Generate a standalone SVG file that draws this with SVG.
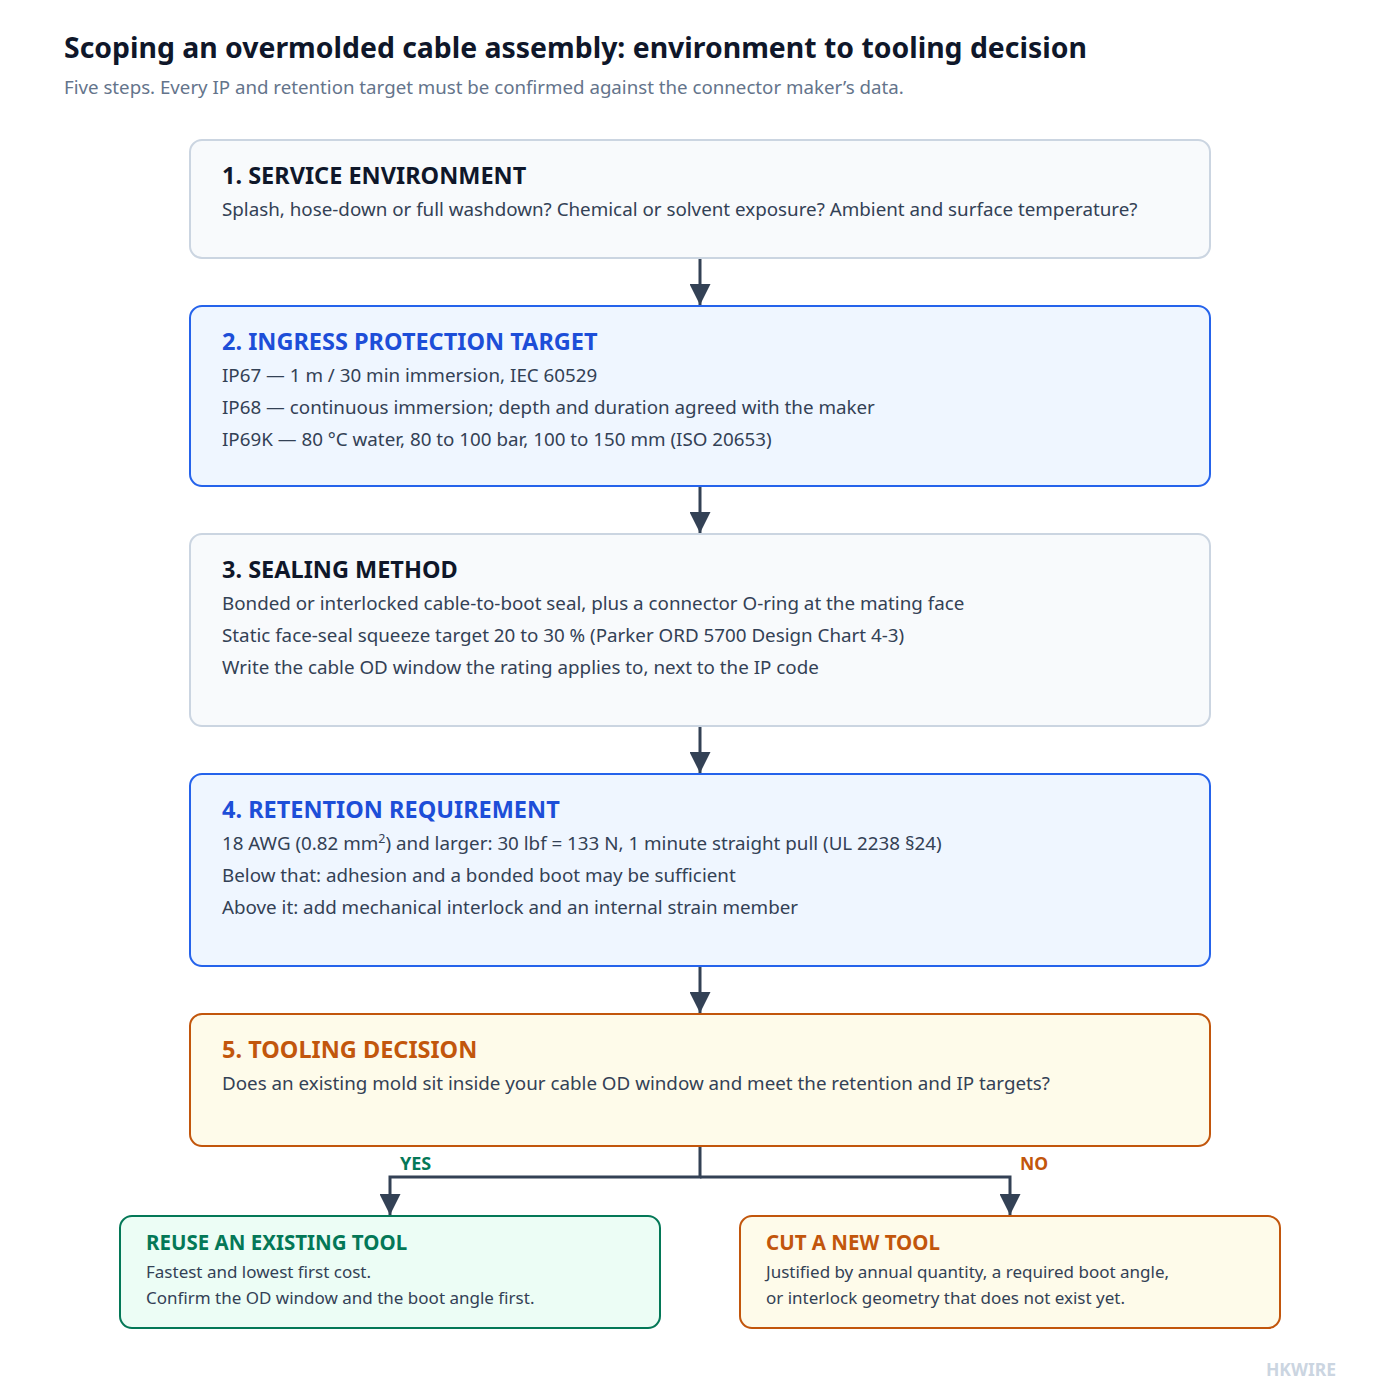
<svg xmlns="http://www.w3.org/2000/svg" width="1400" height="1400" viewBox="0 0 1400 1400">
<defs>
<style>
text{font-family:"Noto Sans","Open Sans","Liberation Sans",sans-serif}
.title{font-size:28.4px;font-weight:700;fill:#0f172a}
.sub{font-size:18.7px;fill:#64748b}
.h{font-size:23.5px;font-weight:700}
.b{font-size:18.8px;fill:#334155}
.bs{font-size:17px;fill:#334155}
.hs{font-size:20.5px;font-weight:700}
.grey{fill:#f8fafc;stroke:#cbd5e1;stroke-width:2}
.blue{fill:#eff6ff;stroke:#2563eb;stroke-width:2}
.amber{fill:#fefbea;stroke:#c2560c;stroke-width:2}
.green{fill:#ecfdf5;stroke:#047857;stroke-width:2}
.conn{stroke:#334155;stroke-width:3;fill:none}
</style>
<marker id="ah" viewBox="0 0 10 10" refX="10" refY="5" markerWidth="7" markerHeight="7" markerUnits="strokeWidth" orient="auto">
<path d="M0,0 L10,5 L0,10 z" fill="#334155"/>
</marker>
</defs>
<rect width="1400" height="1400" fill="#ffffff"/>
<text x="64" y="58" class="title">Scoping an overmolded cable assembly: environment to tooling decision</text>
<text x="64" y="94" class="sub">Five steps. Every IP and retention target must be confirmed against the connector maker’s data.</text>

<g id="connectors">
<path class="conn" d="M700,258 V305" marker-end="url(#ah)"/>
<path class="conn" d="M700,486 V533" marker-end="url(#ah)"/>
<path class="conn" d="M700,726 V773" marker-end="url(#ah)"/>
<path class="conn" d="M700,966 V1013" marker-end="url(#ah)"/>
<path class="conn" d="M700,1146 V1177 H390 V1215" marker-end="url(#ah)"/>
<path class="conn" d="M700,1177 H1010 V1215" marker-end="url(#ah)"/>
<text x="400" y="1170" style="font-size:18px;font-weight:700;fill:#047857">YES</text>
<text x="1020" y="1170" style="font-size:17.5px;font-weight:700;fill:#c2560c">NO</text>
</g>

<g id="step1">
<rect x="190" y="140" width="1020" height="118" rx="12" class="grey"/>
<text x="222" y="184" class="h" fill="#0f172a">1. SERVICE ENVIRONMENT</text>
<text x="222" y="216" class="b">Splash, hose-down or full washdown? Chemical or solvent exposure? Ambient and surface temperature?</text>
</g>

<g id="step2">
<rect x="190" y="306" width="1020" height="180" rx="12" class="blue"/>
<text x="222" y="350" class="h" fill="#1d4ed8">2. INGRESS PROTECTION TARGET</text>
<text x="222" y="382" class="b">IP67 — 1 m / 30 min immersion, IEC 60529</text>
<text x="222" y="414" class="b">IP68 — continuous immersion; depth and duration agreed with the maker</text>
<text x="222" y="446" class="b">IP69K — 80 °C water, 80 to 100 bar, 100 to 150 mm (ISO 20653)</text>
</g>

<g id="step3">
<rect x="190" y="534" width="1020" height="192" rx="12" class="grey"/>
<text x="222" y="578" class="h" fill="#0f172a">3. SEALING METHOD</text>
<text x="222" y="610" class="b">Bonded or interlocked cable-to-boot seal, plus a connector O-ring at the mating face</text>
<text x="222" y="642" class="b">Static face-seal squeeze target 20 to 30 % (Parker ORD 5700 Design Chart 4-3)</text>
<text x="222" y="674" class="b">Write the cable OD window the rating applies to, next to the IP code</text>
</g>

<g id="step4">
<rect x="190" y="774" width="1020" height="192" rx="12" class="blue"/>
<text x="222" y="818" class="h" fill="#1d4ed8">4. RETENTION REQUIREMENT</text>
<text x="222" y="850" class="b">18 AWG (0.82 mm<tspan dy="-7" font-size="12.5">2</tspan><tspan dy="7">) and larger: 30 lbf = 133 N, 1 minute straight pull (UL 2238 §24)</tspan></text>
<text x="222" y="882" class="b">Below that: adhesion and a bonded boot may be sufficient</text>
<text x="222" y="914" class="b">Above it: add mechanical interlock and an internal strain member</text>
</g>

<g id="step5">
<rect x="190" y="1014" width="1020" height="132" rx="12" class="amber"/>
<text x="222" y="1058" class="h" fill="#c2560c">5. TOOLING DECISION</text>
<text x="222" y="1090" class="b">Does an existing mold sit inside your cable OD window and meet the retention and IP targets?</text>
</g>

<g id="reuse">
<rect x="120" y="1216" width="540" height="112" rx="12" class="green"/>
<text x="146" y="1250" class="hs" fill="#047857">REUSE AN EXISTING TOOL</text>
<text x="146" y="1278" class="bs">Fastest and lowest first cost.</text>
<text x="146" y="1304" class="bs">Confirm the OD window and the boot angle first.</text>
</g>

<g id="newtool">
<rect x="740" y="1216" width="540" height="112" rx="12" class="amber"/>
<text x="766" y="1250" class="hs" fill="#c2560c">CUT A NEW TOOL</text>
<text x="766" y="1278" class="bs">Justified by annual quantity, a required boot angle,</text>
<text x="766" y="1304" class="bs">or interlock geometry that does not exist yet.</text>
</g>

<text x="1336" y="1376" text-anchor="end" style="font-size:17.5px;font-weight:700;fill:#cbd5e1">HKWIRE</text>
</svg>
